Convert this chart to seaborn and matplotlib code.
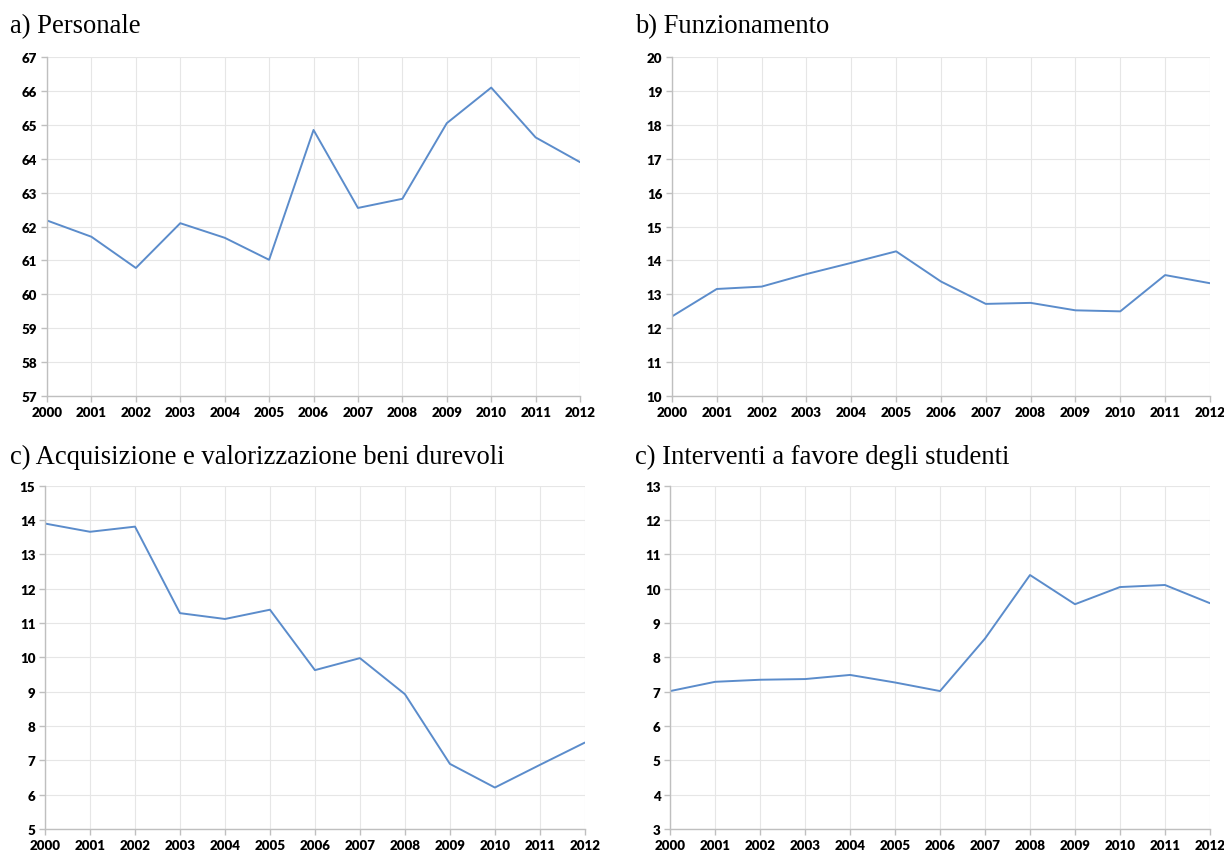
import numpy as np
import pandas as pd
import matplotlib
matplotlib.use("Agg")
import matplotlib.pyplot as plt
import seaborn as sns

sns.set_theme(style="white")

# data
years = list(range(2000, 2013))
personale = [62.18, 61.70, 60.78, 62.10, 61.67, 61.02, 64.85, 62.55, 62.82, 65.05, 66.10, 64.63, 63.90]
funzionamento = [12.35, 13.16, 13.23, 13.60, 13.93, 14.27, 13.38, 12.72, 12.75, 12.53, 12.50, 13.57, 13.33]
beni_durevoli = [13.90, 13.66, 13.81, 11.29, 11.12, 11.39, 9.63, 9.98, 8.93, 6.90, 6.21, 6.87, 7.52]
studenti = [7.02, 7.29, 7.35, 7.37, 7.49, 7.27, 7.02, 8.55, 10.40, 9.55, 10.05, 10.11, 9.58]

titles = ["a) Personale", "b) Funzionamento",
          "c) Acquisizione e valorizzazione beni durevoli",
          "c) Interventi a favore degli studenti"]
series = [personale, funzionamento, beni_durevoli, studenti]
ylims = [(57, 67), (10, 20), (5, 15), (3, 13)]

line_col = "#5B8CCB"
grid_col = "#E6E6E6"
axis_col = "#BFBFBF"

fig = plt.figure(figsize=(12.24, 8.54), dpi=100)

# axes boxes in figure fractions
boxes = [
    [0.0384, 0.535, 0.4355, 0.397],
    [0.5490, 0.535, 0.4395, 0.397],
    [0.0368, 0.028, 0.4410, 0.402],
    [0.5475, 0.028, 0.4410, 0.402],
]
title_pos = [(0.008, 0.961), (0.519, 0.961), (0.008, 0.457), (0.519, 0.457)]

for i in range(4):
    ax = fig.add_axes(boxes[i])
    df = pd.DataFrame({"anno": years, "valore": series[i]})
    sns.lineplot(data=df, x="anno", y="valore", ax=ax, color=line_col, linewidth=1.4)
    ax.set_xlim(years[0], years[-1])
    ax.set_ylim(*ylims[i])
    ax.set_xticks(years)
    ax.set_yticks(range(ylims[i][0], ylims[i][1] + 1))
    ax.set_xlabel("")
    ax.set_ylabel("")
    ax.grid(True, color=grid_col, linewidth=0.8)
    ax.set_axisbelow(True)
    for s in ["top", "right"]:
        ax.spines[s].set_visible(False)
    for s in ["left", "bottom"]:
        ax.spines[s].set_color(axis_col)
        ax.spines[s].set_linewidth(1.0)
    ax.tick_params(axis="both", which="both", length=4, width=1.0, color=axis_col,
                   direction="out", pad=3, left=True, bottom=True)
    for lab in ax.get_xticklabels() + ax.get_yticklabels():
        lab.set_fontfamily("Lato")
        lab.set_fontweight("heavy")
        lab.set_fontsize(9.6)
        lab.set_color("black")
    fig.text(title_pos[i][0], title_pos[i][1], titles[i], fontfamily="Liberation Serif",
             fontsize=19.2, color="black", ha="left", va="baseline")

fig.savefig("out.png", dpi=100)
